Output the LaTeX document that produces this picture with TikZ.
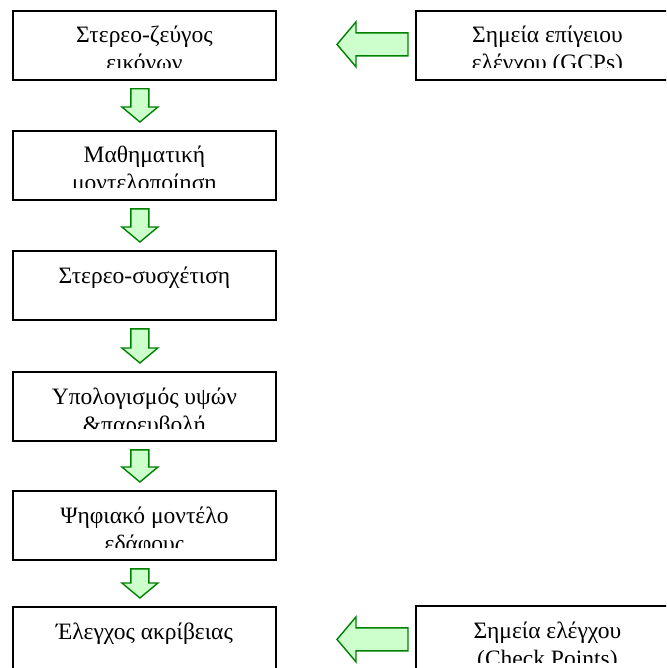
\documentclass[tikz,border=0pt]{standalone}
\usepackage{fontspec}
\setmainfont{Liberation Serif}
\usetikzlibrary{calc}

\definecolor{arrowfill}{HTML}{CCFFCC}
\definecolor{arrowline}{HTML}{008000}

\tikzset{
  stagebox/.style={draw=black, line width=1.8pt, fill=white, rectangle,
    minimum width=263pt, minimum height=69pt, inner sep=0pt, anchor=north west},
  boxtext/.style={anchor=base, inner sep=0pt, font=\fontsize{23.5}{28}\selectfont},
  blockarrow/.style={draw=arrowline, fill=arrowfill, line width=1.4pt, line join=miter},
}

% Box with up to two lines of text; the second line is cut off near the bottom edge
\newcommand\stage[4]{%
  \node[stagebox] (#1) at (#2) {};
  \begin{scope}
    \clip ($(#1.north west)+(0,1)$) rectangle ($(#1.north east)+(0,57.5)$);
    \node[boxtext] (#1-a) at ($(#1.north)+(0,33)$) {#3};
    \node[boxtext] (#1-b) at ($(#1.north)+(0,61)$) {#4};
  \end{scope}
}

% Hollow block arrow pointing down between two stacked boxes
\newcommand\downblock[2]{%
  \coordinate (#1-t) at ($(#1.south)+(-4.5,8)$);
  \coordinate (#1-p) at ($(#2.north)+(-4.5,-8)$);
  \draw[blockarrow] ($(#1-t)+(-9,0)$) -- ($(#1-t)+(9,0)$) -- ($(#1-p)+(9,-15)$)
    -- ($(#1-p)+(18,-15)$) -- (#1-p) -- ($(#1-p)+(-18,-15)$) -- ($(#1-p)+(-9,-15)$) -- cycle;
}

% Hollow block arrow pointing left, out of a side box
\newcommand\leftblock[1]{%
  \coordinate (#1-t) at ($(#1.west)+(-7,-1)$);
  \coordinate (#1-p) at ($(#1-t)+(-71,0)$);
  \draw[blockarrow] ($(#1-t)+(0,-11.5)$) -- ($(#1-t)+(0,11.5)$) -- ($(#1-p)+(19,11.5)$)
    -- ($(#1-p)+(19,22.5)$) -- (#1-p) -- ($(#1-p)+(19,-22.5)$) -- ($(#1-p)+(19,-11.5)$) -- cycle;
}

\begin{document}
\begin{tikzpicture}[x=1pt, y=-1pt]
  \useasboundingbox (0,0) rectangle (666,668);
  \clip (0,0) rectangle (666,668);

  % main processing chain
  \stage{s1}{12,10}{Στερεο-ζεύγος}{εικόνων}
  \stage{s2}{12,130}{Μαθηματική}{μοντελοποίηση}
  \stage{s3}{12,250}{Στερεο-συσχέτιση}{}
  \stage{s4}{12,371}{Υπολογισμός υψών}{\&παρευβολή}
  \stage{s5}{12,490}{Ψηφιακό μοντέλο}{εδάφους}
  \stage{s6}{12,606}{Έλεγχος ακρίβειας}{}

  % external inputs
  \stage{gcp}{415,10}{Σημεία επίγειου}{ελέγχου (GCPs)}
  \stage{chk}{415,605}{Σημεία ελέγχου}{(Check Points)}

  \downblock{s1}{s2}
  \downblock{s2}{s3}
  \downblock{s3}{s4}
  \downblock{s4}{s5}
  \downblock{s5}{s6}

  \leftblock{gcp}
  \leftblock{chk}
\end{tikzpicture}
\end{document}
